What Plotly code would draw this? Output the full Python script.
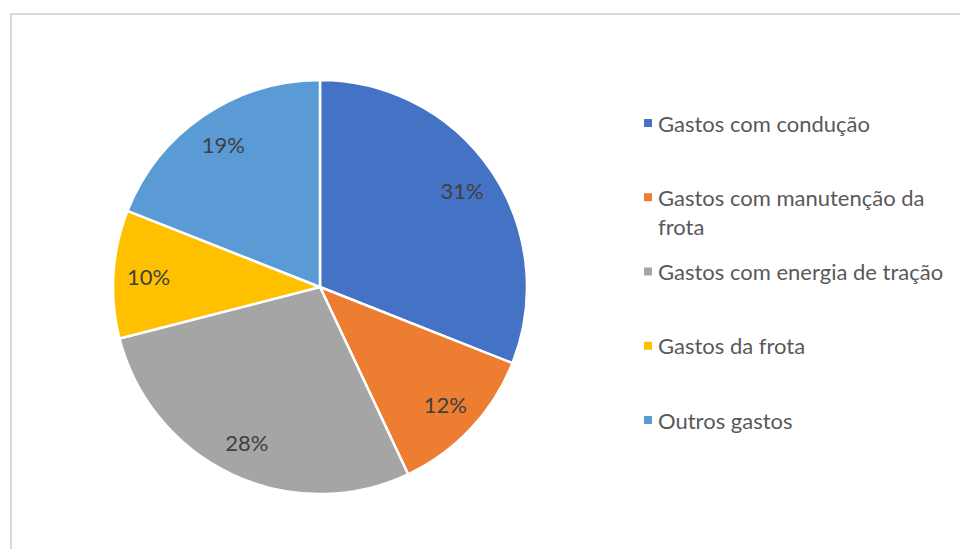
import plotly.graph_objects as go

# Cost breakdown (percent)
labels = ['Gastos com condução', 'Gastos com manutenção da frota',
          'Gastos com energia de tração', 'Gastos da frota', 'Outros gastos']
values = [31, 12, 28, 10, 19]
legend_lines = [['Gastos com condução'], ['Gastos com manutenção da', 'frota'],
                ['Gastos com energia de tração'], ['Gastos da frota'], ['Outros gastos']]
colors = ['#4472C4', '#ED7D31', '#A5A5A5', '#FFC000', '#5B9BD5']

W, H = 960, 549
FONT = 'Lato'


def px(x):
    return x / W


def py(y):
    return 1 - y / H


domain = dict(x=[px(113), px(527)], y=[py(494), py(80)])

fig = go.Figure()

# filled pie
fig.add_trace(go.Pie(
    labels=labels, values=values, sort=False, direction='clockwise',
    marker=dict(colors=colors, line=dict(color='white', width=2.5)),
    textinfo='none', domain=domain, showlegend=False,
))

# transparent ring carrying the data labels (puts them at ~0.83 R)
fig.add_trace(go.Pie(
    labels=labels, values=values, sort=False, direction='clockwise',
    hole=0.66,
    marker=dict(colors=['rgba(0,0,0,0)'] * len(values), line=dict(width=0)),
    texttemplate='%{percent:.0%}', textposition='inside',
    insidetextorientation='horizontal',
    textfont=dict(family=FONT, size=22, color='#404040'),
    domain=domain, showlegend=False, hoverinfo='skip',
))

# chart-area border (only top and left visible in the crop)
shapes = [dict(type='rect', xref='paper', yref='paper',
               x0=px(11), x1=px(W + 10), y0=py(H + 10), y1=py(14),
               line=dict(color='#D9D9D9', width=2), fillcolor='rgba(0,0,0,0)',
               layer='below')]
annotations = []

# hand-built legend so entry spacing matches the original
y0, step, sq = 123, 74.25, 8
for i, lines in enumerate(legend_lines):
    yc = y0 + i * step
    shapes.append(dict(type='rect', xref='paper', yref='paper',
                       x0=px(644), x1=px(644 + sq), y0=py(yc + sq / 2), y1=py(yc - sq / 2),
                       fillcolor=colors[i], line=dict(width=0)))
    annotations.append(dict(xref='paper', yref='paper', x=px(656), y=py(yc - 15.5),
                            xanchor='left', yanchor='top', showarrow=False, align='left',
                            text='<br>'.join(lines),
                            font=dict(family=FONT, size=22, color='#595959')))

fig.update_layout(
    width=W, height=H,
    margin=dict(l=0, r=0, t=0, b=0),
    paper_bgcolor='white', plot_bgcolor='white',
    shapes=shapes, annotations=annotations,
    font=dict(family=FONT),
)

# drop the browser's default body margin so the figure sits at (0, 0)
fig.write_html('out.html', post_script="document.body.style.margin='0';",
               config={'displayModeBar': False})
